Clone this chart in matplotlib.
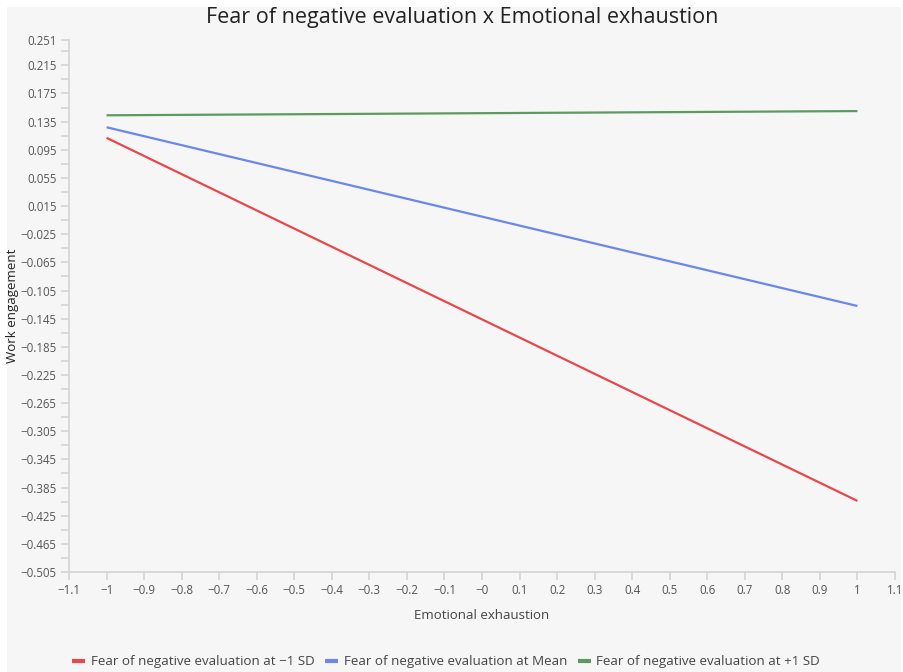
import matplotlib
matplotlib.use("Agg")
import matplotlib.pyplot as plt
from matplotlib.patches import Rectangle
from matplotlib.ticker import FixedLocator, FuncFormatter
import numpy as np

plt.rcParams['font.family'] = ['Open Sans', 'DejaVu Sans']

title = "Fear of negative evaluation x Emotional exhaustion"
x_label = "Emotional exhaustion"
y_label = "Work engagement"
series_names = ["Fear of negative evaluation at \u22121 SD",
                "Fear of negative evaluation at Mean",
                "Fear of negative evaluation at +1 SD"]
x_values = [-1, 1]
low_sd = [0.112, -0.404]
mean_vals = [0.127, -0.127]
high_sd = [0.144, 0.150]
colors = ["#e8484b", "#6b87e8", "#5d9a5e"]

x_ticks = [round(-1.1 + 0.1 * i, 1) for i in range(23)]
y_ticks = [0.251] + [round(0.215 - 0.04 * i, 3) for i in range(19)]
y_minor = [round(0.235 - 0.04 * i, 3) for i in range(19)]

W, H = 904, 672
fig = plt.figure(figsize=(W / 100, H / 100), dpi=100, facecolor="white")
fig.patches.append(Rectangle((7 / W, 0), (901 - 7) / W, (H - 7) / H,
                             transform=fig.transFigure, facecolor="#f6f6f6",
                             edgecolor="none", zorder=-10))

ax = fig.add_axes([69 / W, 1 - 572 / H, (895 - 69) / W, (572 - 40) / H])
ax.set_facecolor("none")

for vals, c, name in zip([low_sd, mean_vals, high_sd], colors, series_names):
    ax.plot(x_values, vals, color=c, lw=1.6, label=name, solid_capstyle="butt")

ax.set_xlim(-1.1, 1.1)
ax.set_ylim(-0.505, 0.251)
ax.xaxis.set_major_locator(FixedLocator(x_ticks))
ax.yaxis.set_major_locator(FixedLocator(y_ticks))
ax.yaxis.set_minor_locator(FixedLocator(y_minor))


def fmt_x(v, pos):
    s = f"{v:.1f}".rstrip("0").rstrip(".")
    if s in ("0", "-0"):
        return "\u22120"
    return s.replace("-", "\u2212")


def fmt_y(v, pos):
    return f"{v:.3f}".replace("-", "\u2212")


ax.xaxis.set_major_formatter(FuncFormatter(fmt_x))
ax.yaxis.set_major_formatter(FuncFormatter(fmt_y))

for s in ["top", "right"]:
    ax.spines[s].set_visible(False)
for s in ["left", "bottom"]:
    ax.spines[s].set_color("#d4d4d4")
    ax.spines[s].set_linewidth(1.2)

ax.tick_params(axis="both", which="major", length=6, width=1.2, color="#d4d4d4",
               labelsize=8.3, labelcolor="#555555", pad=3)
ax.tick_params(axis="y", which="minor", length=6, width=1.2, color="#d4d4d4")

ax.set_xlabel(x_label, fontsize=9.5, color="#444444", labelpad=8)
ax.set_ylabel(y_label, fontsize=9.5, color="#222222", labelpad=4)
ax.yaxis.set_label_coords(-50 / (895 - 69), 0.5)

fig.text(462 / W, 1 - 17 / H, title, ha="center", va="center", fontsize=15.5, color="#222222")

handles, labels = ax.get_legend_handles_labels()
leg = fig.legend(handles, labels, loc="center", bbox_to_anchor=(446 / W, 1 - 662 / H),
                 ncol=3, frameon=False, fontsize=9.6, handlelength=1.0,
                 handletextpad=0.4, columnspacing=0.8)
for line in leg.get_lines():
    line.set_linewidth(3)
for t in leg.get_texts():
    t.set_color("#444444")

fig.savefig("out.png", dpi=100, facecolor="white")
